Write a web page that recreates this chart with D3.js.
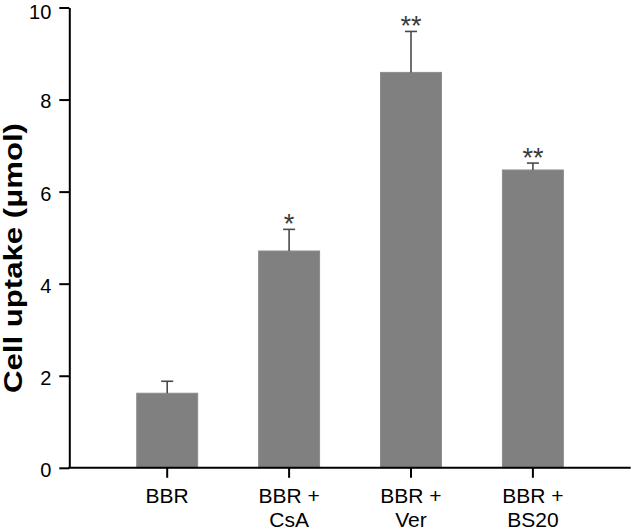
<!DOCTYPE html>
<html>
<head>
<meta charset="utf-8">
<script src="https://cdn.jsdelivr.net/npm/d3@7"></script>
<style>
  html, body { margin: 0; padding: 0; background: #fff; }
  svg { display: block; font-family: "Liberation Sans", Arial, Helvetica, sans-serif; }
</style>
</head>
<body>
<svg id="chart" width="632" height="530"></svg>
<script>
// ---- data ----
const categories = ["BBR", "BBR + CsA", "BBR + Ver", "BBR + BS20"];
const categoryLines = [["BBR"], ["BBR +", "CsA"], ["BBR +", "Ver"], ["BBR +", "BS20"]];
const values = [1.62, 4.71, 8.59, 6.47];
const errors = [0.26, 0.47, 0.89, 0.15];
const significance = ["", "*", "**", "**"];
const yTicks = [0, 2, 4, 6, 8, 10];
const yLabel = "Cell uptake (\u03bcmol)";

// ---- layout ----
const svg = d3.select("#chart");
const axisX = 69.3, axisY = 467.8;

const y = d3.scaleLinear().domain([0, 10]).range([467.8, 7.5]);
const x = d3.scaleBand().domain(categories)
  .range([106.25, 593.85]).paddingInner(0.5).paddingOuter(0.25);

// bars
svg.append("g").selectAll("rect").data(categories).join("rect")
  .attr("x", d => x(d))
  .attr("width", x.bandwidth())
  .attr("y", (d, i) => y(values[i]))
  .attr("height", (d, i) => y(0) - y(values[i]))
  .attr("fill", "#808080")
  .attr("stroke", "#8c8c8c")
  .attr("stroke-width", 1);

// error bars
const eg = svg.append("g").attr("stroke", "#4a4a4a").attr("stroke-width", 1.6);
categories.forEach((c, i) => {
  const cx = x(c) + x.bandwidth() / 2;
  eg.append("line").attr("x1", cx).attr("x2", cx)
    .attr("y1", y(values[i])).attr("y2", y(values[i] + errors[i]));
  eg.append("line").attr("x1", cx - 6).attr("x2", cx + 6)
    .attr("y1", y(values[i] + errors[i])).attr("y2", y(values[i] + errors[i]));
});

// significance stars
svg.append("g").selectAll("text").data(categories).join("text")
  .attr("x", d => x(d) + x.bandwidth() / 2)
  .attr("y", (d, i) => y(values[i] + errors[i]) + 4)
  .attr("text-anchor", "middle")
  .attr("font-size", 27)
  .attr("fill", "#3a3a3a")
  .text((d, i) => significance[i]);

// y axis
const yAxis = svg.append("g")
  .attr("transform", `translate(${axisX},0)`)
  .call(d3.axisLeft(y).tickValues(yTicks).tickSize(10).tickPadding(8).tickSizeOuter(0));
yAxis.select(".domain").attr("stroke", "#000").attr("stroke-width", 2);
yAxis.selectAll(".tick line").attr("stroke", "#000").attr("stroke-width", 2);
yAxis.selectAll(".tick text").attr("font-size", 20).attr("fill", "#000")
  .attr("dy", d => Math.max(8.4, 18.2 - y(d)) + "px")
  .attr("font-family", "Liberation Sans, Arial, sans-serif");

// x axis
const xAxis = svg.append("g")
  .attr("transform", `translate(0,${axisY})`)
  .call(d3.axisBottom(x).tickSize(10).tickSizeOuter(0).tickFormat(""));
xAxis.select(".domain").remove();
xAxis.selectAll(".tick line").attr("stroke", "#000").attr("stroke-width", 2);
svg.append("line")
  .attr("x1", axisX - 1).attr("x2", 630.7)
  .attr("y1", axisY).attr("y2", axisY)
  .attr("stroke", "#000").attr("stroke-width", 2);

// x labels (multi-line)
const xl = svg.append("g");
categories.forEach((c, i) => {
  const t = xl.append("text")
    .attr("x", x(c) + x.bandwidth() / 2)
    .attr("y", 503)
    .attr("text-anchor", "middle")
    .attr("font-size", 21)
    .attr("fill", "#000");
  categoryLines[i].forEach((line, j) => {
    t.append("tspan").attr("x", x(c) + x.bandwidth() / 2)
      .attr("dy", j === 0 ? 0 : 23.5).text(line);
  });
});

// y label
svg.append("text")
  .attr("transform", "translate(22,258) rotate(-90)")
  .attr("text-anchor", "middle")
  .attr("font-size", 25)
  .attr("font-weight", "bold")
  .attr("fill", "#000")
  .attr("textLength", 270)
  .attr("lengthAdjust", "spacingAndGlyphs")
  .text(yLabel);
</script>
</body>
</html>
